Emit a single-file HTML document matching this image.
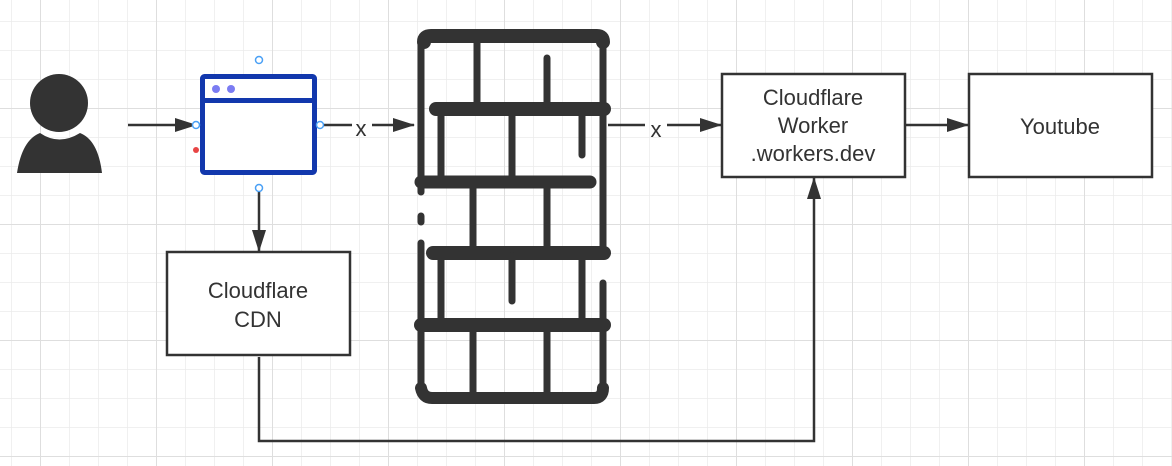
<!DOCTYPE html>
<html><head><meta charset="utf-8"><style>
html,body{margin:0;padding:0;background:#fff}
svg{display:block}
text{font-family:"Liberation Sans",sans-serif;fill:#333}
</style></head><body>
<svg width="1172" height="466" viewBox="0 0 1172 466" xmlns="http://www.w3.org/2000/svg">
<defs>
<pattern id="minor" x="11" y="21" width="29" height="29" patternUnits="userSpaceOnUse">
<path d="M0 0V29M0 0H29" stroke="#ebebeb" stroke-width="1.5" fill="none"/>
</pattern>
<pattern id="major" x="40" y="108" width="116" height="116" patternUnits="userSpaceOnUse">
<path d="M0 0V116M0 0H116" stroke="#dedede" stroke-width="2" fill="none"/>
</pattern>
<marker id="ah2" markerWidth="22" markerHeight="14" refX="21" refY="7" orient="auto" markerUnits="userSpaceOnUse">
<path d="M0 0L22 7L0 14Z" fill="#333"/>
</marker>
</defs>
<rect width="1172" height="466" fill="url(#minor)"/>
<rect width="1172" height="466" fill="url(#major)"/>

<!-- person -->
<circle cx="59" cy="103" r="29" fill="#333"/>
<path d="M17 173 Q22 140 40 133 Q59 146 80 133 Q98 140 102 173 Z" fill="#333"/>

<!-- connectors -->
<g stroke="#333" stroke-width="2.5" fill="none">
<line x1="128" y1="125" x2="196" y2="125" marker-end="url(#ah2)"/>
<line x1="320" y1="125" x2="352" y2="125"/>
<line x1="372" y1="125" x2="414" y2="125" marker-end="url(#ah2)"/>
<line x1="608" y1="125" x2="645" y2="125"/>
<line x1="667" y1="125" x2="721" y2="125" marker-end="url(#ah2)"/>
<line x1="906" y1="125" x2="968" y2="125" marker-end="url(#ah2)"/>
<line x1="259" y1="192" x2="259" y2="251" marker-end="url(#ah2)"/>
<polyline points="259,357 259,441 814,441 814,178" marker-end="url(#ah2)"/>
</g>
<text x="361" y="136" font-size="22" text-anchor="middle">x</text>
<text x="656" y="137" font-size="22" text-anchor="middle">x</text>

<!-- browser -->
<rect x="202.5" y="76.5" width="112" height="96" rx="2" fill="#fff" stroke="#1238ad" stroke-width="5"/>
<line x1="202" y1="100.5" x2="315" y2="100.5" stroke="#1238ad" stroke-width="5"/>
<circle cx="216" cy="89" r="4" fill="#7b7cf2"/>
<circle cx="231" cy="89" r="4" fill="#7b7cf2"/>
<g fill="#fff" stroke="#4aa0f5" stroke-width="1.5">
<circle cx="259" cy="60" r="3.5"/>
<circle cx="196" cy="125" r="3.5"/>
<circle cx="320" cy="125" r="3.5"/>
<circle cx="259" cy="188" r="3.5"/>
</g>
<circle cx="196" cy="150" r="3" fill="#e84545"/>

<!-- firewall -->
<g stroke="#333" stroke-linecap="round" fill="none">
<path d="M424 42 Q424 36 431 36 L597 36 Q603 36 603 42" stroke-width="14"/>
<line x1="421" y1="40" x2="421" y2="192" stroke-width="7"/>
<line x1="421" y1="216" x2="421" y2="222" stroke-width="7"/>
<line x1="421" y1="243" x2="421" y2="390" stroke-width="7"/>
<line x1="603" y1="40" x2="603" y2="252" stroke-width="7"/>
<line x1="603" y1="283" x2="603" y2="390" stroke-width="7"/>
<path d="M421 388 Q423 398 432 398 L594 398 Q603 398 603 388" stroke-width="12"/>
<line x1="436" y1="109" x2="604" y2="109" stroke-width="14"/>
<line x1="421" y1="182" x2="590" y2="182" stroke-width="13"/>
<line x1="433" y1="253" x2="604" y2="253" stroke-width="14"/>
<line x1="421" y1="325" x2="604" y2="325" stroke-width="14"/>
<g stroke-width="7" stroke-linecap="butt">
<line x1="477" y1="38" x2="477" y2="104"/>
<line x1="441" y1="112" x2="441" y2="178"/>
<line x1="512" y1="112" x2="512" y2="178"/>
<line x1="473" y1="185" x2="473" y2="249"/>
<line x1="547" y1="185" x2="547" y2="249"/>
<line x1="441" y1="256" x2="441" y2="321"/>
<line x1="582" y1="256" x2="582" y2="321"/>
<line x1="473" y1="328" x2="473" y2="394"/>
<line x1="547" y1="328" x2="547" y2="394"/>
</g>
<line x1="547" y1="58" x2="547" y2="104" stroke-width="7"/>
<line x1="582" y1="112" x2="582" y2="155" stroke-width="7"/>
<line x1="512" y1="256" x2="512" y2="301" stroke-width="7"/>
</g>

<!-- boxes -->
<g fill="#fff" stroke="#333" stroke-width="2.5">
<rect x="722" y="74" width="183" height="103"/>
<rect x="969" y="74" width="183" height="103"/>
<rect x="167" y="252" width="183" height="103"/>
</g>
<g font-size="22" text-anchor="middle">
<text x="813" y="105">Cloudflare</text>
<text x="813" y="133">Worker</text>
<text x="813" y="161">.workers.dev</text>
<text x="1060" y="134">Youtube</text>
<text x="258" y="298">Cloudflare</text>
<text x="258" y="327">CDN</text>
</g>
</svg>
</body></html>
